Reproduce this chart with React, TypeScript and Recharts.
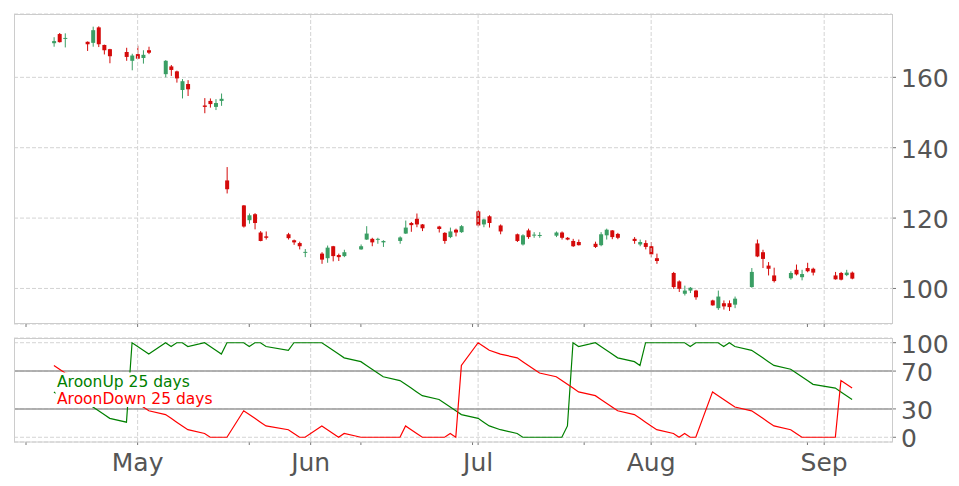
import React from 'react';
import {
  ComposedChart,
  LineChart,
  Line,
  Bar,
  XAxis,
  YAxis,
  CartesianGrid,
  ReferenceLine,
} from 'recharts';

// trading days shown in the chart
const dates = [
  '2019-04-16', '2019-04-17', '2019-04-18', '2019-04-22', '2019-04-23', '2019-04-24', '2019-04-25', '2019-04-26', '2019-04-29', '2019-04-30',
  '2019-05-01', '2019-05-02', '2019-05-03', '2019-05-06', '2019-05-07', '2019-05-08', '2019-05-09', '2019-05-10', '2019-05-13', '2019-05-14',
  '2019-05-15', '2019-05-16', '2019-05-17', '2019-05-20', '2019-05-21', '2019-05-22', '2019-05-23', '2019-05-24', '2019-05-28', '2019-05-29',
  '2019-05-30', '2019-05-31', '2019-06-03', '2019-06-04', '2019-06-05', '2019-06-06', '2019-06-07', '2019-06-10', '2019-06-11', '2019-06-12',
  '2019-06-13', '2019-06-14', '2019-06-17', '2019-06-18', '2019-06-19', '2019-06-20', '2019-06-21', '2019-06-24', '2019-06-25', '2019-06-26',
  '2019-06-27', '2019-06-28', '2019-07-01', '2019-07-02', '2019-07-03', '2019-07-05', '2019-07-08', '2019-07-09', '2019-07-10', '2019-07-11',
  '2019-07-12', '2019-07-15', '2019-07-16', '2019-07-17', '2019-07-18', '2019-07-19', '2019-07-22', '2019-07-23', '2019-07-24', '2019-07-25',
  '2019-07-26', '2019-07-29', '2019-07-30', '2019-07-31', '2019-08-01', '2019-08-02', '2019-08-05', '2019-08-06', '2019-08-07', '2019-08-08',
  '2019-08-09', '2019-08-12', '2019-08-13', '2019-08-14', '2019-08-15', '2019-08-16', '2019-08-19', '2019-08-20', '2019-08-21', '2019-08-22',
  '2019-08-23', '2019-08-26', '2019-08-27', '2019-08-28', '2019-08-29', '2019-08-30', '2019-09-03', '2019-09-04', '2019-09-05', '2019-09-06',
];

const opens = [
  169.7, 172.3, 171.0, 170.1, 169.8, 174.2, 169.2, 168.0, 167.2, 164.7,
  166.6, 165.5, 167.7, 160.9, 163.1, 161.7, 156.4, 158.1, 152.0, 153.3,
  151.6, 153.3, 130.7, 123.6, 119.4, 121.1, 115.9, 114.8, 115.4, 113.7,
  112.9, 110.2, 109.9, 108.6, 112.0, 109.5, 109.2, 111.1, 113.9, 114.1,
  113.9, 113.1, 113.5, 115.6, 118.6, 119.8, 118.2, 117.6, 115.8, 114.6,
  116.7, 116.0, 121.9, 118.2, 120.5, 117.9, 115.4, 112.5, 116.5, 115.1,
  115.0, 115.0, 115.9, 114.4, 113.5, 113.2, 112.7, 112.3, 115.1, 116.5,
  115.5, 114.1, 112.5, 112.9, 112.0, 108.6, 104.4, 102.0, 98.5, 99.4,
  99.4, 96.6, 94.4, 95.8, 95.8, 95.4, 100.4, 112.8, 110.3, 106.5,
  103.7, 102.9, 105.3, 103.2, 105.8, 105.6, 103.7, 104.4, 103.8, 104.5,
];

const highs = [
  171.4, 172.6, 172.5, 170.2, 174.4, 174.5, 169.3, 168.1, 168.4, 166.7,
  169.0, 167.7, 168.7, 164.9, 163.5, 161.9, 159.5, 159.2, 154.1, 154.0,
  153.8, 155.4, 134.5, 123.7, 121.3, 121.4, 116.3, 116.2, 115.8, 113.9,
  113.3, 111.2, 110.3, 112.2, 112.1, 109.9, 111.0, 112.5, 117.7, 114.4,
  114.4, 113.7, 114.8, 119.3, 118.9, 121.3, 118.3, 117.8, 116.0, 117.3,
  117.0, 118.0, 122.2, 119.8, 120.8, 118.2, 115.6, 115.4, 117.0, 116.0,
  116.0, 116.2, 116.2, 114.6, 114.1, 113.9, 113.3, 116.0, 117.0, 116.6,
  115.8, 114.6, 113.9, 113.7, 113.2, 109.9, 104.7, 102.3, 100.8, 100.4,
  99.6, 96.8, 99.4, 96.6, 96.6, 97.7, 105.8, 113.9, 111.0, 107.5,
  105.9, 104.9, 106.8, 105.3, 107.3, 105.9, 104.7, 104.7, 105.3, 104.8,
];

const lows = [
  168.7, 169.9, 168.5, 167.5, 168.7, 168.6, 166.5, 164.0, 164.7, 162.0,
  165.2, 163.9, 166.6, 160.0, 160.4, 158.5, 154.0, 154.7, 149.8, 151.4,
  150.7, 151.9, 127.0, 117.3, 118.4, 116.8, 113.4, 113.9, 113.9, 112.4,
  111.1, 108.9, 107.0, 107.3, 107.7, 107.8, 108.9, 111.0, 113.8, 112.0,
  112.7, 111.8, 112.7, 115.5, 116.1, 117.4, 116.3, 115.9, 112.7, 114.3,
  114.8, 115.8, 117.6, 117.4, 117.3, 115.4, 113.2, 112.2, 114.1, 114.4,
  114.4, 114.6, 113.9, 113.7, 111.8, 112.2, 111.5, 112.0, 113.9, 114.0,
  114.0, 112.7, 112.0, 111.1, 108.9, 107.0, 99.9, 99.0, 98.0, 98.7,
  96.8, 95.1, 93.9, 94.0, 93.6, 94.4, 100.2, 108.9, 105.8, 103.7,
  101.7, 102.5, 103.7, 102.3, 104.6, 103.7, 102.5, 102.3, 103.5, 102.6,
];

const closes = [
  170.3, 170.0, 171.2, 169.4, 173.4, 169.4, 167.7, 166.0, 165.8, 166.2,
  165.3, 166.4, 167.0, 164.7, 162.1, 159.7, 158.9, 156.6, 151.6, 152.4,
  152.7, 153.9, 128.2, 117.6, 120.8, 118.6, 113.5, 114.4, 114.3, 113.1,
  112.0, 110.4, 108.2, 111.6, 109.2, 108.9, 110.3, 112.0, 115.6, 113.1,
  114.1, 113.5, 114.5, 117.3, 118.0, 118.2, 117.1, 116.9, 113.5, 116.2,
  115.9, 117.7, 117.9, 119.6, 118.6, 116.2, 113.5, 115.1, 114.6, 115.3,
  115.2, 115.9, 114.4, 113.9, 112.0, 112.3, 111.8, 115.4, 116.7, 114.6,
  114.4, 113.5, 113.2, 111.8, 109.7, 107.8, 100.4, 99.9, 99.4, 100.2,
  97.5, 95.2, 97.7, 94.9, 94.7, 97.1, 104.7, 109.1, 108.4, 105.6,
  102.1, 104.4, 104.0, 104.1, 104.9, 104.5, 102.6, 102.5, 104.5, 102.8,
];

const aroonUp = [
  48, 44, 40, 36, 32, 28, 24, 20, 16, 100,
  96, 92, 88, 100, 96, 100, 100, 96, 100, 96,
  92, 88, 100, 100, 96, 100, 100, 96, 92, 100,
  100, 100, 100, 96, 92, 88, 84, 80, 76, 72,
  68, 64, 60, 56, 52, 48, 44, 40, 36, 32,
  28, 24, 20, 16, 12, 8, 4, 0, 0, 0,
  0, 0, 0, 12, 100, 96, 100, 96, 92, 88,
  84, 80, 76, 100, 100, 100, 100, 100, 100, 96,
  100, 100, 100, 96, 100, 96, 92, 88, 84, 80,
  76, 72, 68, 64, 60, 56, 52, 48, 44, 40,
];

const aroonDown = [
  76, 72, 68, 64, 60, 56, 52, 48, 44, 40,
  36, 32, 28, 24, 20, 16, 12, 8, 4, 0,
  0, 0, 0, 28, 24, 20, 16, 12, 8, 4,
  0, 0, 12, 8, 4, 0, 4, 0, 0, 0,
  0, 0, 0, 12, 8, 4, 0, 0, 0, 4,
  0, 76, 100, 96, 92, 88, 84, 80, 76, 72,
  68, 64, 60, 56, 52, 48, 44, 40, 36, 32,
  28, 24, 20, 16, 12, 8, 4, 0, 4, 0,
  0, 48, 44, 40, 36, 32, 28, 24, 20, 16,
  12, 8, 4, 0, 0, 0, 0, 60, 56, 52,
];

const priceTicks = [100, 120, 140, 160];
const aroonTicks = [0, 30, 70, 100];
const aroonBands = [30, 70];
const monthStarts = ['2019-05-01', '2019-06-01', '2019-07-01', '2019-08-01', '2019-09-01'];
const monthLabels = ['May', 'Jun', 'Jul', 'Aug', 'Sep'];
const minorTicks = ['2019-04-11', '2019-05-21', '2019-06-10', '2019-06-30', '2019-07-20', '2019-08-09', '2019-08-29'];

const UP = '#3a9e64';
const DOWN = '#d40a0a';
const TEXT = '#555555';
const GRID = '#d4d4d4';
const FONT = '"DejaVu Sans", sans-serif';

const dayOf = (s: string) =>
  (Date.UTC(+s.slice(0, 4), +s.slice(5, 7) - 1, +s.slice(8, 10)) - Date.UTC(2019, 4, 1)) / 86400000;

const rows = dates.map((d, i) => ({
  t: dayOf(d),
  open: opens[i],
  high: highs[i],
  low: lows[i],
  close: closes[i],
  up: aroonUp[i],
  down: aroonDown[i],
}));

const first = rows[0].t;
const last = rows[rows.length - 1].t;
const pad = (last - first) * 0.05;
const xDomain = [first - pad, last + pad];

const monthDays = monthStarts.map(dayOf);
const allTicks = [...monthDays, ...minorTicks.map(dayOf)].sort((a, b) => a - b);
const monthFormatter = (v: number) => {
  const i = monthDays.indexOf(v);
  return i >= 0 ? monthLabels[i] : '';
};

const Candle = (props: any) => {
  const { x, y, width, height, payload } = props;
  if (!payload || height == null) return null;
  const { open, close, high, low } = payload;
  const k = height / (high - low);
  const yo = y + (high - open) * k;
  const yc = y + (high - close) * k;
  const color = close >= open ? UP : DOWN;
  const cx = x + width / 2;
  return (
    <g>
      <line x1={cx} x2={cx} y1={y} y2={y + height} stroke={color} strokeWidth={1} />
      <rect x={x} y={Math.min(yo, yc)} width={width} height={Math.max(Math.abs(yo - yc), 1)} fill={color} />
    </g>
  );
};

const monthLines = monthDays.map((m) => (
  <ReferenceLine key={m} x={m} stroke={GRID} strokeDasharray="4 2" />
));

export default function App() {
  return (
    <div
      style={{
        position: 'absolute',
        left: 0,
        top: 0,
        width: 959,
        height: 486,
        background: '#fff',
        fontFamily: FONT,
      }}
    >
      <div style={{ position: 'absolute', left: 0, top: 0 }}>
        <ComposedChart width={959} height={330} data={rows} margin={{ top: 14, right: 0, bottom: 0, left: 14 }}>
          <CartesianGrid vertical={false} stroke={GRID} strokeDasharray="4 2" />
          {monthLines}
          <XAxis
            dataKey="t"
            type="number"
            domain={xDomain}
            allowDataOverflow
            ticks={allTicks}
            interval={0}
            tickFormatter={() => ''}
            height={6}
            tickSize={3}
            axisLine={false}
            tickLine={{ stroke: '#777' }}
          />
          <YAxis
            orientation="right"
            width={67}
            domain={[89.9, 178]}
            allowDataOverflow
            ticks={priceTicks}
            interval={0}
            tickSize={4}
            tickMargin={5}
            axisLine={false}
            tickLine={{ stroke: '#777' }}
            tick={{ fill: TEXT, fontSize: 25, dy: 1 }}
          />
          <Bar
            dataKey={(d: any) => [d.low, d.high]}
            barSize={4}
            shape={<Candle />}
            isAnimationActive={false}
          />
        </ComposedChart>
      </div>
      <div style={{ position: 'absolute', left: 0, top: 330 }}>
        <LineChart width={959} height={156} data={rows} margin={{ top: 8, right: 0, bottom: 0, left: 14 }}>
          <CartesianGrid vertical={false} stroke={GRID} strokeDasharray="4 2" />
          {monthLines}
          {aroonBands.map((b) => (
            <ReferenceLine key={b} y={b} stroke="#9a9a9a" strokeWidth={1.5} />
          ))}
          <XAxis
            dataKey="t"
            type="number"
            domain={xDomain}
            allowDataOverflow
            ticks={allTicks}
            interval={0}
            tickFormatter={monthFormatter}
            height={44}
            tickSize={3}
            tickMargin={8.5}
            axisLine={false}
            tickLine={{ stroke: '#777' }}
            tick={{ fill: TEXT, fontSize: 25 }}
          />
          <YAxis
            orientation="right"
            width={67}
            domain={[-5, 105]}
            allowDataOverflow
            ticks={aroonTicks}
            interval={0}
            tickSize={4}
            tickMargin={5}
            axisLine={false}
            tickLine={{ stroke: '#777' }}
            tick={{ fill: TEXT, fontSize: 25, dy: 1 }}
          />
          <Line dataKey="up" stroke="#008000" strokeWidth={1.2} dot={false} isAnimationActive={false} />
          <Line dataKey="down" stroke="#ff0000" strokeWidth={1.2} dot={false} isAnimationActive={false} />
        </LineChart>
      </div>
      <svg
        width={959}
        height={486}
        style={{ position: 'absolute', left: 0, top: 0, pointerEvents: 'none' }}
      >
        <rect x={14.5} y={14.5} width={878} height={309} fill="none" stroke="#cccccc" />
        <rect x={14.5} y={338.5} width={878} height={103.5} fill="none" stroke="#cccccc" />
        <rect x={55.5} y={372.5} width={160} height={34.5} fill="#ffffff" />
        <text x={57} y={387.3} fontSize={15.5} fill="#008000" fontFamily={FONT}>
          AroonUp 25 days
        </text>
        <text x={57} y={403.7} fontSize={15.5} fill="#ff0000" fontFamily={FONT}>
          AroonDown 25 days
        </text>
      </svg>
    </div>
  );
}
